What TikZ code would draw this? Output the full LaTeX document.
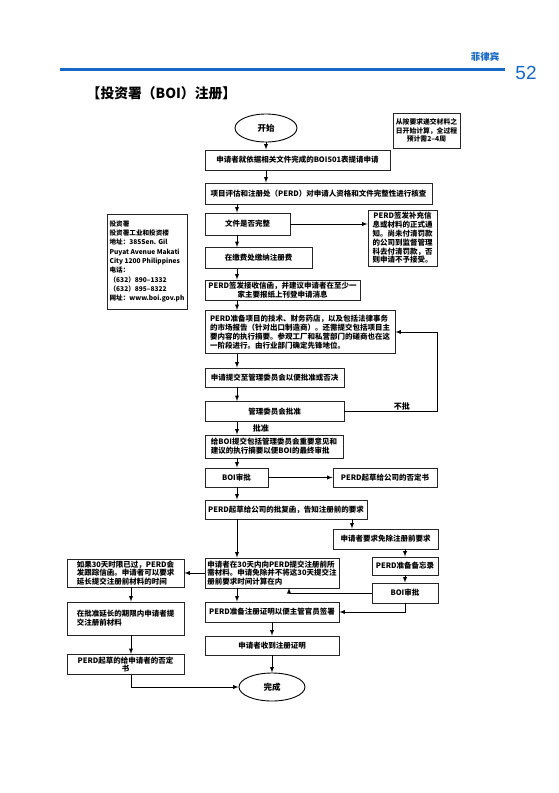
\documentclass[tikz,border=0pt]{standalone}
\usepackage{fontspec}
\setmainfont{Noto Sans CJK SC}
\newfontfamily\numfont{Liberation Sans}
\usetikzlibrary{shapes.geometric}
\definecolor{pageblue}{RGB}{23,104,196}

\begin{document}
\begin{tikzpicture}[
  x=1pt, y=-1pt,
  every node/.style={inner sep=1.5pt,font=\fontsize{7.5}{8.8}\selectfont\bfseries},
  box/.style={draw=black!85,line width=0.9pt,fill=white,rectangle,align=left},
  cbox/.style={box,align=center},
  oval/.style={draw,line width=0.9pt,ellipse,font=\fontsize{8.5}{9}\selectfont\bfseries},
  tag/.style={font=\fontsize{8}{9}\selectfont\bfseries},
  ]
  \useasboundingbox (0,0) rectangle (559,793);
  % page header
  \draw[pageblue,line width=3pt] (60,69) -- (505,69);
  \node[pageblue,font=\fontsize{9.5}{10}\selectfont\bfseries] (country) at (485,57) {菲律宾};
  \node[pageblue,font=\fontsize{19}{20}\selectfont\numfont] (page) at (526,73) {52};
  \node[anchor=west,font=\fontsize{13.8}{15}\selectfont\bfseries] (title) at (85,93) {【投资署（BOI）注册】};

  % columns used by the arrows
  \coordinate (mid) at (266,0);
  \coordinate (col) at (237,0);
  \coordinate (colr) at (352,0);
  \coordinate (lcol) at (131,0);
  \coordinate (loop) at (437,332);
  \coordinate (back) at (289,588);

  % main column
  \node[oval,minimum width=62,minimum height=28] (start) at (266,128) {开始};
  \node[cbox,minimum width=67,minimum height=35,font=\fontsize{6.8}{8.4}\selectfont\bfseries] (span) at (426.5,130.5) {从按要求递交材料之\\日开始计算，全过程\\预计需2–4周};
  \node[cbox,minimum width=185,minimum height=20] (apply) at (297.5,160) {申请者就依据相关文件完成的BOI501表提请申请};
  \node[cbox,minimum width=227,minimum height=21] (assess) at (318.5,193.5) {项目评估和注册处（PERD）对申请人资格和文件完整性进行核查};
  \node[cbox,minimum width=85,minimum height=22] (check) at (247.5,224) {文件是否完整};
  \node[cbox,minimum width=69,minimum height=56] (notice) at (402.5,238) {PERD签发补充信\\息或材料的正式通\\知。尚未付清罚款\\的公司到监督管理\\科去付清罚款，否\\则申请不予接受。};
  \node[cbox,minimum width=107,minimum height=21] (fee) at (258.5,258) {在缴费处缴纳注册费};
  \node[cbox,minimum width=155,minimum height=20] (accept) at (282.5,290) {PERD签发接收信函，并建议申请者在至少一\\家主要报纸上刊登申请消息};
  \node[box,minimum width=190,minimum height=43] (prep) at (300,332) {PERD准备项目的技术、财务药店，以及包括法律事务\\的市场报告（针对出口制造商）。还需提交包括项目主\\要内容的执行摘要。参观工厂和私营部门的磋商也在这\\一阶段进行。由行业部门确定先锋地位。};
  \node[box,minimum width=139,minimum height=19] (submit) at (274.5,377.5) {申请提交至管理委员会以便批准或否决};
  \node[cbox,minimum width=139,minimum height=20] (board) at (274.5,411.5) {管理委员会批准};
  \node[box,minimum width=138,minimum height=23] (summary) at (274,446.5) {给BOI提交包括管理委员会重要意见和\\建议的执行摘要以便BOI的最终审批};
  \node[cbox,minimum width=63,minimum height=19] (boi) at (236.5,477.5) {BOI审批};
  \node[cbox,minimum width=104,minimum height=19] (deny) at (385,477.5) {PERD起草给公司的否定书};
  \node[cbox,minimum width=162,minimum height=19] (reply) at (286,509.5) {PERD起草给公司的批复函，告知注册前的要求};
  \node[cbox,minimum width=105,minimum height=20] (waiver) at (385.5,539) {申请者要求免除注册前要求};
  \node[cbox,minimum width=66,minimum height=18] (memo) at (405,566) {PERD准备备忘录};
  \node[cbox,minimum width=66,minimum height=20] (boi2) at (405,593) {BOI审批};
  \node[box,minimum width=134,minimum height=30] (submit30) at (272,573) {申请者在30天内向PERD提交注册前所\\需材料。申请免除并不将这30天提交注\\册前要求时间计算在内};
  \node[cbox,minimum width=134,minimum height=20] (cert) at (272,612) {PERD准备注册证明以便主管官员签署};
  \node[cbox,minimum width=134,minimum height=19] (receive) at (272,645.5) {申请者收到注册证明};
  \node[oval,minimum width=66,minimum height=28] (done) at (272,687) {完成};

  % left column
  \node[box,minimum width=117,minimum height=28] (late) at (125.5,573) {如果30天时限已过，PERD会\\发跟踪信函。申请者可以要求\\延长提交注册前材料的时间};
  \node[box,minimum width=117,minimum height=33] (extend) at (125.5,618.5) {在批准延长的期限内申请者提\\交注册前材料};
  \node[cbox,minimum width=117,minimum height=20] (refuse) at (125.5,664.5) {PERD起草的给申请者的否定\\书};

  % address
  \node[box,minimum width=80,minimum height=95,inner sep=2pt,font=\fontsize{6.6}{9.3}\selectfont\bfseries] (boiaddr) at (147,261.5) {投资署\\投资署工业和投资楼\\地址：385Sen. Gil\\Puyat Avenue Makati\\City 1200 Philippines\\电话：\\（632）890–1332\\（632）895–8322\\网址：www.boi.gov.ph};

  \path[draw,line width=0.9pt,>=latex]
  (start) edge[->] (apply.north -| start)
  (apply.south -| mid) edge[->] (assess.north -| mid)
  (assess.south -| col) edge[->] (check.north -| col)
  (check.east) edge[->] (check.east -| notice.west)
  (check.south -| col) edge[->] (fee.north -| col)
  (fee.south -| col) edge[->] (accept.north -| col)
  (accept.south -| col) edge[->] (prep.north -| col)
  (prep.south -| col) edge[->] (submit.north -| col)
  (submit.south -| col) edge[->] (board.north -| col)
  (board.south -| col) edge[->] node[tag,right,xshift=14pt] {批准} (summary.north -| col)
  (summary.south -| col) edge[->] (boi.north -| col)
  (boi) edge[->] (deny)
  (boi.south -| col) edge[->] (reply.north -| col)
  (reply.south -| colr) edge[->] (waiver.north -| colr)
  (waiver.south -| memo) edge[->] (memo)
  (memo) edge[->] (boi2)
  (reply.south -| col) edge[->] (submit30.north -| col)
  (submit30) edge[->] (late)
  (late.south -| lcol) edge[->] (extend.north -| lcol)
  (extend.south -| lcol) edge[->] (refuse.north -| lcol)
  (submit30.south -| col) edge[->] (cert.north -| col)
  (cert) edge[->] (receive)
  (receive) edge[->] (done);
  \draw[line width=0.9pt,->,>=latex] (board.east) -| node[tag,pos=0.31,above=-1pt] {不批} (loop) -- (prep.east);
  \draw[line width=0.9pt,->,>=latex] (boi2.west) -| (back);
  \draw[line width=0.9pt,->,>=latex] (boi2.south) |- (cert.east);
  \draw[line width=0.9pt,->,>=latex] (refuse.south -| lcol) |- (done.west);
\end{tikzpicture}
\end{document}
